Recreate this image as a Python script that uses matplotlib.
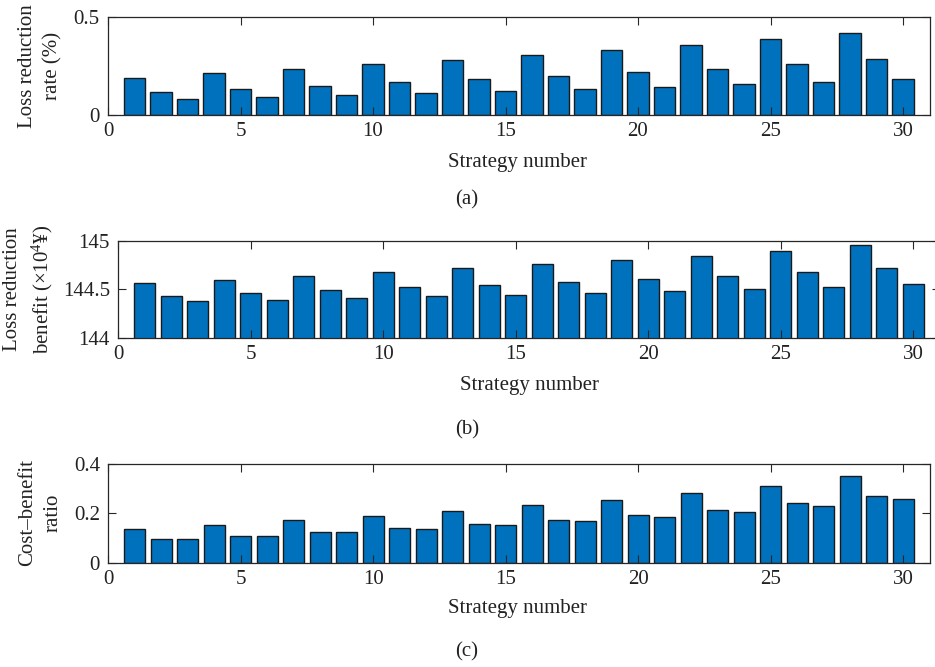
import numpy as np
import matplotlib
matplotlib.use('Agg')
import matplotlib.pyplot as plt

# strategy numbers 1..30
strategies = np.arange(1, 31)

# (a) loss reduction rate (%)
loss_rate = [0.191, 0.116, 0.080, 0.213, 0.133, 0.091, 0.237, 0.150, 0.102, 0.259,
             0.167, 0.113, 0.282, 0.183, 0.123, 0.307, 0.201, 0.133, 0.333, 0.219,
             0.145, 0.358, 0.237, 0.157, 0.388, 0.259, 0.171, 0.421, 0.285, 0.186]

# (b) loss reduction benefit (x10^4 yuan)
benefit = [144.562, 144.435, 144.377, 144.600, 144.466, 144.394, 144.637, 144.493, 144.411, 144.678,
           144.521, 144.429, 144.716, 144.548, 144.445, 144.760, 144.579, 144.466, 144.800, 144.610,
           144.486, 144.846, 144.640, 144.507, 144.894, 144.678, 144.527, 144.956, 144.719, 144.555]

# (c) cost-benefit ratio
cost_ratio = [0.135, 0.096, 0.096, 0.153, 0.109, 0.109, 0.172, 0.126, 0.123, 0.191,
              0.141, 0.138, 0.211, 0.157, 0.153, 0.233, 0.174, 0.170, 0.255, 0.193,
              0.186, 0.283, 0.215, 0.207, 0.311, 0.241, 0.229, 0.350, 0.270, 0.257]

xticks = [0, 5, 10, 15, 20, 25, 30]

plt.rcParams['font.family'] = ['Liberation Serif', 'DejaVu Serif']
plt.rcParams['mathtext.fontset'] = 'custom'
plt.rcParams['mathtext.rm'] = 'Liberation Serif'
plt.rcParams['mathtext.it'] = 'Liberation Serif:italic'

TXT = '#222222'
FS = 15
W, H = 935, 667

fig = plt.figure(figsize=(W / 100, H / 100), dpi=100)


def px(x, y):
    # pixel (from top-left) to figure fraction
    return x / W, 1 - y / H


def make_panel(left, top, bottom, vals, ylim, yticks, yticklabels):
    width = 26.5 * 31 / W
    ax = fig.add_axes([left / W, 1 - bottom / H, width, (bottom - top) / H])
    ax.bar(strategies, vals, width=0.8, color='#0072BD', edgecolor='#1a1a1a', linewidth=1.0)
    ax.set_xlim(0, 31)
    ax.set_ylim(*ylim)
    ax.set_xticks(xticks)
    ax.set_xticklabels([str(t) for t in xticks])
    ax.set_yticks(yticks)
    ax.set_yticklabels(yticklabels)
    ax.tick_params(direction='in', top=True, right=True, length=6, width=0.8,
                   colors='#262626', labelsize=FS, labelcolor=TXT)
    ax.tick_params(axis='x', pad=5)
    ax.tick_params(axis='y', pad=6)
    for s in ax.spines.values():
        s.set_color('#262626')
        s.set_linewidth(0.9)
    return ax


ax1 = make_panel(108, 17.3, 115, loss_rate, (0, 0.5), [0, 0.5], ['0', '0.5'])
ax2 = make_panel(118.3, 240.7, 338, benefit, (144, 145), [144, 144.5, 145], ['144', '144.5', '145'])
ax3 = make_panel(108.3, 464, 562.7, cost_ratio, (0, 0.4), [0, 0.2, 0.4], ['0', '0.2', '0.4'])

# y labels
fig.text(*px(40, 66), 'Loss reduction\nrate (%)', rotation=90, ha='center', va='center',
         fontsize=FS, color=TXT, linespacing=1.45)
fig.text(*px(29, 289), 'Loss reduction\nbenefit ($\\times$10$^{4}$¥)', rotation=90, ha='center',
         va='center', fontsize=FS, color=TXT, linespacing=1.45)
fig.text(*px(40, 513), 'Cost–benefit\nratio', rotation=90, ha='center', va='center',
         fontsize=FS, color=TXT, linespacing=1.45)

# x labels
fig.text(*px(518, 163), 'Strategy number', ha='center', va='center', fontsize=FS, color=TXT)
fig.text(*px(529, 385), 'Strategy number', ha='center', va='center', fontsize=FS, color=TXT)
fig.text(*px(518, 609), 'Strategy number', ha='center', va='center', fontsize=FS, color=TXT)

# panel captions
fig.text(*px(467, 200), '(a)', ha='center', va='center', fontsize=FS, color=TXT)
fig.text(*px(467, 430), '(b)', ha='center', va='center', fontsize=FS, color=TXT)
fig.text(*px(467, 652), '(c)', ha='center', va='center', fontsize=FS, color=TXT)

fig.savefig('out.png', dpi=100)
